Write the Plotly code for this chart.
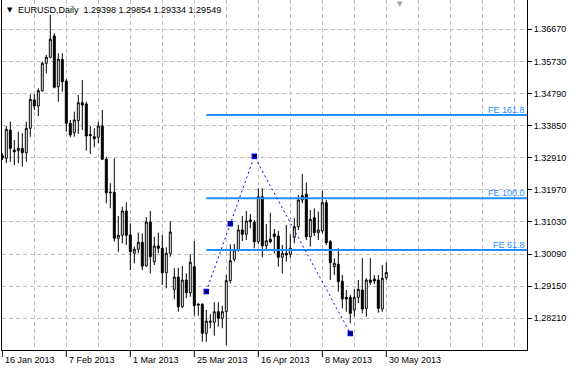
import plotly.graph_objects as go

# ---------------- data ----------------
symbol = "EURUSD,Daily"
opens = [1.32976, 1.32894, 1.33722, 1.33137, 1.33116, 1.33187, 1.33058, 1.33772, 1.34601, 1.34425,
         1.34873, 1.35675, 1.35851, 1.36474, 1.34990, 1.35792, 1.35157, 1.33919, 1.33643, 1.33995,
         1.34522, 1.34484, 1.33591, 1.33526, 1.33509, 1.33840, 1.32865, 1.31907, 1.31899, 1.30552,
         1.30640, 1.31351, 1.30649, 1.30113, 1.30230, 1.30435, 1.29741, 1.31029, 1.29867, 1.30327,
         1.30259, 1.29545, 1.30113, 1.29059, 1.29419, 1.28550, 1.29331, 1.28960, 1.29721, 1.28629,
         1.28620, 1.27771, 1.28093, 1.28093, 1.28403, 1.28210, 1.28403, 1.29311, 1.29937, 1.30210,
         1.30795, 1.30669, 1.31088, 1.31020, 1.30453, 1.31770, 1.30335, 1.30523, 1.30678, 1.30619,
         1.29996, 1.30113, 1.30084, 1.30581, 1.30892, 1.31673, 1.31840, 1.30599, 1.31155, 1.30716,
         1.30766, 1.31594, 1.30453, 1.29721, 1.29791, 1.29302, 1.28825, 1.28825, 1.28453, 1.28825,
         1.29039, 1.28503, 1.29331, 1.29361, 1.29331, 1.28482, 1.29398]
highs = [1.33049, 1.33840, 1.33965, 1.33430, 1.33673, 1.33626, 1.33965, 1.34768, 1.34768, 1.34943,
         1.35722, 1.35918, 1.37089, 1.36553, 1.35968, 1.35968, 1.35215, 1.34015, 1.34258, 1.34747,
         1.35186, 1.34551, 1.33840, 1.33772, 1.33965, 1.34308, 1.32941, 1.32162, 1.32894, 1.31205,
         1.31477, 1.31606, 1.30991, 1.30306, 1.30716, 1.30698, 1.31167, 1.31351, 1.30599, 1.30716,
         1.30649, 1.30289, 1.31058, 1.29674, 1.29691, 1.29741, 1.29527, 1.30084, 1.30473, 1.28649,
         1.28649, 1.28453, 1.28336, 1.28679, 1.28679, 1.28579, 1.29478, 1.30376, 1.30385, 1.30941,
         1.31205, 1.31351, 1.31263, 1.31088, 1.32016, 1.32016, 1.30971, 1.31301, 1.30824, 1.30766,
         1.30356, 1.30941, 1.30669, 1.31138, 1.31820, 1.32434, 1.32180, 1.31380, 1.31430, 1.31331,
         1.31945, 1.31673, 1.30502, 1.29967, 1.30259, 1.29478, 1.29039, 1.28892, 1.29059, 1.29331,
         1.29967, 1.29381, 1.29967, 1.29478, 1.29478, 1.29770, 1.29854]
lows = [1.32844, 1.32756, 1.32794, 1.32698, 1.32748, 1.32648, 1.32794, 1.33526, 1.34308, 1.34132,
        1.34844, 1.35382, 1.35821, 1.34943, 1.34551, 1.34844, 1.33673, 1.33509, 1.33526, 1.33605,
        1.33722, 1.33116, 1.33020, 1.33216, 1.33333, 1.32844, 1.31577, 1.31430, 1.30453, 1.30160,
        1.30406, 1.30356, 1.29624, 1.29820, 1.30113, 1.29624, 1.29721, 1.29527, 1.29770, 1.30113,
        1.29185, 1.29088, 1.30013, 1.28766, 1.28403, 1.28512, 1.28796, 1.28842, 1.28286, 1.28286,
        1.27525, 1.27525, 1.27917, 1.27701, 1.27964, 1.27917, 1.27429, 1.29235, 1.29867, 1.30160,
        1.30473, 1.30502, 1.30845, 1.30259, 1.30385, 1.29996, 1.30210, 1.30406, 1.30113, 1.29721,
        1.29527, 1.29867, 1.29967, 1.30406, 1.30795, 1.31577, 1.30502, 1.30306, 1.30619, 1.30502,
        1.30698, 1.30356, 1.29331, 1.29478, 1.28989, 1.28503, 1.28403, 1.28064, 1.28257, 1.28649,
        1.28356, 1.28257, 1.29185, 1.29214, 1.28374, 1.28403, 1.29334]
closes = [1.32903, 1.33743, 1.33187, 1.33087, 1.33187, 1.33058, 1.33772, 1.34621, 1.34425, 1.34873,
          1.35675, 1.35851, 1.36378, 1.34972, 1.35792, 1.35136, 1.33919, 1.33576, 1.34015, 1.34522,
          1.34454, 1.33547, 1.33561, 1.33468, 1.33840, 1.32865, 1.31887, 1.31887, 1.30552, 1.30640,
          1.31351, 1.30640, 1.30160, 1.30230, 1.30435, 1.29741, 1.31029, 1.30013, 1.30327, 1.30259,
          1.29545, 1.30113, 1.30736, 1.29419, 1.28550, 1.29331, 1.28960, 1.29849, 1.28579, 1.28599,
          1.27771, 1.28131, 1.28122, 1.28403, 1.28210, 1.28403, 1.29311, 1.29896, 1.30210, 1.30795,
          1.30669, 1.31058, 1.31038, 1.30453, 1.31770, 1.30327, 1.30482, 1.30453, 1.30599, 1.29996,
          1.30113, 1.30063, 1.30259, 1.30892, 1.31673, 1.31799, 1.30599, 1.31108, 1.30716, 1.30795,
          1.31594, 1.30423, 1.29838, 1.29820, 1.29282, 1.28775, 1.28775, 1.28356, 1.28825, 1.29059,
          1.28482, 1.29331, 1.29264, 1.29302, 1.28503, 1.29381, 1.29549]
bar_index = list(range(len(opens)))

date_tick_index = [0, 16, 32, 48, 64, 80, 96]
date_tick_labels = ["16 Jan 2013", "7 Feb 2013", "1 Mar 2013", "25 Mar 2013",
                    "16 Apr 2013", "8 May 2013", "30 May 2013"]
grid_index = list(range(0, 131, 8))
price_ticks = [1.28210, 1.29150, 1.30090, 1.31030, 1.31970,
               1.32910, 1.33850, 1.34790, 1.35730, 1.36670]

# Fibonacci expansion anchors (A, B, C) and levels
fe_index = [51, 63, 87]
fe_price = [1.28998, 1.32951, 1.27768]
fe_levels = [61.8, 100.0, 161.8]

# ---------------- layout geometry ----------------
W, H = 580, 371
ML, MR, MT, MB = 2, 53, 0, 21
PW, PH = W - ML - MR, H - MT - MB
x_range = [-0.075, 131.175]
y_range = [1.27282, 1.37528]

def px_x(px):
    return (px - ML) / PW

def px_y(py):
    return (H - MB - py) / PH

FONT = "Liberation Sans, Arial, sans-serif"
FE_COLOR = "#1E90FF"

fig = go.Figure()

fig.add_trace(go.Candlestick(
    x=bar_index, open=opens, high=highs, low=lows, close=closes,
    increasing=dict(line=dict(color="black", width=1), fillcolor="white"),
    decreasing=dict(line=dict(color="black", width=1), fillcolor="black"),
    whiskerwidth=0, showlegend=False, hoverinfo="skip",
))

# FE levels
A, B, C = fe_price
shapes = []
annotations = []
for lvl in fe_levels:
    price = C + (B - A) * lvl / 100.0
    fig.add_trace(go.Scatter(
        x=[fe_index[0], x_range[1]], y=[price, price], mode="lines",
        line=dict(color=FE_COLOR, width=2), showlegend=False, hoverinfo="skip",
        cliponaxis=True))
    annotations.append(dict(
        x=1, xref="paper", y=price, yref="y", xanchor="right", yanchor="bottom",
        xshift=-1, yshift=-1, text="FE %.1f" % lvl, showarrow=False,
        font=dict(family=FONT, size=9, color=FE_COLOR), borderpad=0))

# dotted pattern lines A-B-C
fig.add_trace(go.Scatter(
    x=fe_index, y=fe_price, mode="lines",
    line=dict(color="#0000FF", width=1, dash="2px,3px"),
    showlegend=False, hoverinfo="skip"))
mid_x = (fe_index[0] + fe_index[1]) / 2
mid_y = (fe_price[0] + fe_price[1]) / 2
fig.add_trace(go.Scatter(
    x=[fe_index[0], mid_x, fe_index[1], fe_index[2]],
    y=[fe_price[0], mid_y, fe_price[1], fe_price[2]],
    mode="markers",
    marker=dict(symbol="square", size=4, color="#000000",
                line=dict(color="#0000FF", width=1.5)),
    showlegend=False, hoverinfo="skip"))

# date label ticks and labels
for idx, lab in zip(date_tick_index, date_tick_labels):
    shapes.append(dict(type="line", xref="x", yref="paper", x0=idx, x1=idx,
                       y0=0, y1=px_y(357), line=dict(color="black", width=1)))
    annotations.append(dict(x=idx, xref="x", y=px_y(360), yref="paper",
                            xanchor="left", yanchor="middle", xshift=1,
                            text=lab, showarrow=False,
                            font=dict(family=FONT, size=9, color="black")))

# header
header = "%s\u00a0\u00a0%.5f %.5f %.5f %.5f" % (symbol, opens[-1], highs[-1], lows[-1], closes[-1])
annotations.append(dict(x=px_x(5), xref="paper", y=px_y(10), yref="paper",
                        xanchor="left", yanchor="middle", text="\u25BC", showarrow=False,
                        font=dict(family="DejaVu Sans", size=7, color="black")))
annotations.append(dict(x=px_x(16), xref="paper", y=px_y(10), yref="paper",
                        xanchor="left", yanchor="middle", text=header, showarrow=False,
                        font=dict(family=FONT, size=9, color="black")))
# chart shift marker
annotations.append(dict(x=px_x(400), xref="paper", y=px_y(4), yref="paper",
                        xanchor="center", yanchor="middle", text="\u25BC", showarrow=False,
                        font=dict(family="DejaVu Sans", size=7, color="#A0A0A0")))

fig.update_layout(
    width=W, height=H,
    margin=dict(l=ML, r=MR, t=MT, b=MB, pad=0),
    paper_bgcolor="white", plot_bgcolor="white",
    showlegend=False,
    shapes=shapes, annotations=annotations,
    font=dict(family=FONT, size=9, color="black"),
    xaxis=dict(range=x_range, rangeslider=dict(visible=False),
               tickmode="array", tickvals=grid_index, showticklabels=False, ticks="",
               showgrid=True, gridcolor="#C0C0C0", griddash="4px,3px", gridwidth=1,
               zeroline=False, showline=True, linecolor="black", linewidth=1, mirror=True),
    yaxis=dict(range=y_range, side="right", tickmode="array", tickvals=price_ticks,
               ticktext=["%.5f" % v for v in price_ticks],
               ticks="outside", ticklen=4, tickcolor="black", tickwidth=1,
               tickfont=dict(family=FONT, size=9, color="black"),
               showgrid=True, gridcolor="#C0C0C0", griddash="4px,3px", gridwidth=1,
               zeroline=False, showline=True, linecolor="black", linewidth=1, mirror=True),
)

fig.write_html("out.html")
